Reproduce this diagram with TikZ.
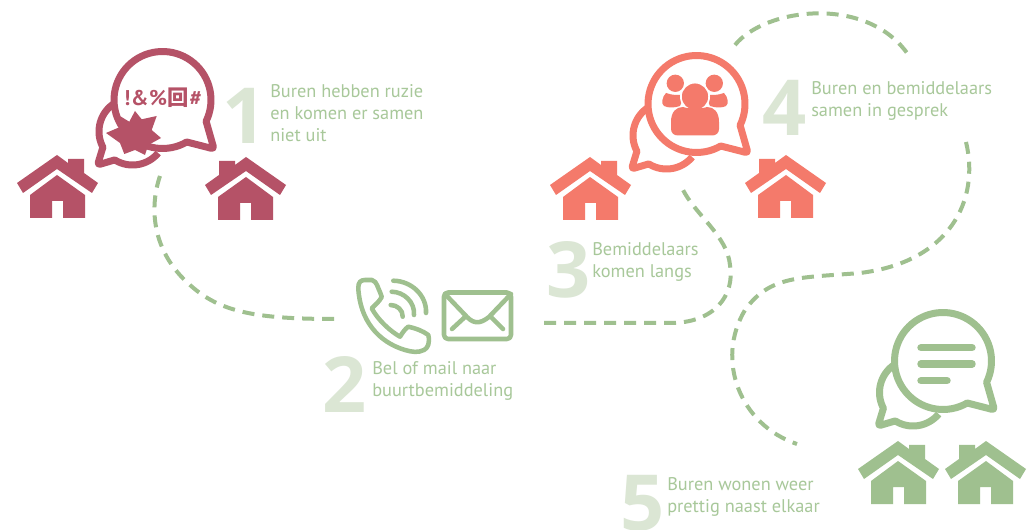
\documentclass[tikz,border=0pt]{standalone}
\usepackage{fontspec}
\setmainfont{PT Sans}
\newfontfamily\cjkf{Noto Sans CJK SC}[FontFace={b}{n}{* Bold}]
\newfontfamily\digitf{Open Sans}[FontFace={b}{n}{* Bold}]
\definecolor{maroon}{HTML}{B55267}
\definecolor{coral}{HTML}{F47A6B}
\definecolor{leaf}{HTML}{9FC08F}
\definecolor{lbl}{HTML}{A8C89A}
\definecolor{digit}{HTML}{DBE6D4}
\tikzset{
  trail/.style={draw=leaf,line width=3pt,dash pattern=on 9pt off 6pt},
  label/.style={anchor=north west,inner sep=0pt,align=left,text=lbl,font=\fontsize{13.75}{16.6}\selectfont},
  bignum/.style={anchor=base west,inner sep=0pt,text=digit,font=\fontsize{58}{58}\digitf\bfseries},
  icon/.style={draw=leaf,line width=3.4pt,line cap=round,line join=round},
  bub/.style={line width=5.25pt,line join=round},
}
\newcommand{\housepic}[4]{%
  \begin{scope}[shift={(#1,#2)},xscale=#3]
    \fill[#4] (-40,28) -- (0,0) -- (11,8) -- (11,4) -- (27,4) -- (27,18) -- (41,28) -- (35,38) -- (0,14) -- (-34,38) -- cycle;
    \fill[#4] (0,20) -- (28,40) -- (28,63) -- (6,63) -- (6,46) -- (-5,46) -- (-5,63) -- (-27,63) -- (-27,40) -- cycle;
  \end{scope}}
\newcommand{\bubblepic}[3]{%
  \begin{scope}[shift={(#1,#2)}]
    \draw[bub,draw=#3] plot[domain=240:152,samples=30] ({-30+33.5*cos(\x)},{31.5+33.5*sin(\x)}) [rounded corners=2.2pt] -- (-65,65) [sharp corners] -- plot[domain=122:40,samples=30] ({-30+33.5*cos(\x)},{31.5+33.5*sin(\x)});
    \draw[bub,draw=#3,fill=white] plot[domain=60:386,samples=70] ({48.5*cos(\x)},{48.5*sin(\x)}) [rounded corners=2.2pt] -- (51.5,49) [sharp corners] -- cycle;
  \end{scope}}
\begin{document}
\begin{tikzpicture}[x=0.75pt,y=-0.75pt]
\useasboundingbox (0,0) rectangle (1031,530);
\clip (0,0) rectangle (1031,530);
\fill[white] (0,0) rectangle (1031,530);

% cropped title
\node[anchor=base,inner sep=0pt,text=black!85,font=\fontsize{21}{21}\selectfont] (titleA) at (292,-5) {g};
\node[anchor=base,inner sep=0pt,text=black!85,font=\fontsize{21}{21}\selectfont] (titleB) at (466,-5) {g};

% trail coordinates
\coordinate (t1a) at (160,176);
\coordinate (t1b) at (336,319);
\coordinate (t2a) at (544,323);
\coordinate (t2b) at (682,188);
\coordinate (t3a) at (735,45);
\coordinate (t3b) at (907,53);
\coordinate (t4a) at (966,142);
\coordinate (t4b) at (797,444);

\draw[trail] (t1a) .. controls (150,205) and (150,250) .. (190,285) .. controls (220,312) and (255,319) .. (t1b);
\draw[trail] (t2a) -- (670,323) .. controls (715,323) and (735,295) .. (730,265) .. controls (727,235) and (695,215) .. (t2b);
\draw[trail] (t3a) .. controls (765,8) and (865,-5) .. (t3b);
\draw[trail] (t4a) .. controls (980,200) and (950,262) .. (860,273) .. controls (800,278) and (770,275) .. (745,310) .. controls (715,360) and (740,425) .. (t4b);

% group 1
\housepic{57}{155}{1}{maroon}
\housepic{246}{157}{-1}{maroon}
\bubblepic{162.5}{100}{maroon}
\fill[maroon] (135,111) -- (141.7,119.3) -- (156.7,116) -- (151.7,130) -- (161,138) -- (148.3,145) -- (145,155) -- (135,150) -- (124.3,154) -- (120,143) -- (106,133) -- (120,127) -- (121,116.7) -- (129.3,121.7) -- cycle;
\node[inner sep=0pt,text=maroon,font=\fontsize{16}{16}\selectfont\bfseries] (curse) at (163,98) {!\kern0.5pt\&\kern0.5pt\%\kern0.5pt{\cjkf 回}\kern0.5pt\#};
\node[bignum] (n1) at (222,144) {1};
\node[label] (l1) at (270,84) {Buren hebben ruzie\\en komen er samen\\niet uit};

% group 2
\draw[icon] (358.3,288.3) .. controls (358,282) and (361,280) .. (365,280) -- (372,280) .. controls (375,281) and (376,283) .. (377,285) .. controls (379,290) and (381,294) .. (381.7,297) .. controls (379,302) and (375,305) .. (371.7,308.3) .. controls (378,320) and (390,331) .. (400,336.7) .. controls (403,332) and (405,329) .. (408.3,326.7) .. controls (415,328) and (423,331) .. (428.3,335) .. controls (430,343) and (428,348) .. (424,350) .. controls (418,353) and (412,352) .. (405,350) .. controls (378,342) and (360,320) .. (358.3,288.3) -- cycle;
\draw[icon] (393.3,280.7) .. controls (412,281) and (427,296) .. (426,313);
\draw[icon] (391.7,291.7) .. controls (404,292) and (415,302) .. (414,315);
\draw[icon] (390.7,305) .. controls (397,305) and (403,310) .. (402.7,316.7);
\draw[icon,rounded corners=3pt] (444,292.5) rectangle (511,339);
\draw[icon] (445,294) -- (467,317) .. controls (474,324) and (480,324) .. (489,317) -- (511,294);
\draw[icon] (452,329) -- (465,317);
\draw[icon] (503,329) -- (491,317);
\node[bignum] (n2) at (322,413) {2};
\node[label] (l2) at (372,361) {Bel of mail naar\\buurtbemiddeling};

% group 3 and 4
\housepic{590}{157}{1}{coral}
\housepic{786}{155}{-1}{coral}
\bubblepic{696.5}{104}{coral}
\fill[coral] (675.3,83.3) circle[radius=6.5pt];
\fill[coral] (714.3,83.3) circle[radius=6.5pt];
\fill[coral] (666,93) .. controls (662,97) and (661,104) .. (664,106) .. controls (668,108) and (674,108) .. (680,106) -- (685,94) .. controls (678,96) and (672,95) .. (666,93) -- cycle;
\fill[coral] (724,93) .. controls (728,97) and (729,104) .. (726,106) .. controls (722,108) and (716,108) .. (710,106) -- (705,94) .. controls (712,96) and (718,95) .. (724,93) -- cycle;
\filldraw[fill=coral,draw=white,line width=1.3pt] (695,96.7) circle[radius=10.6pt];
\fill[coral] (671,122) .. controls (671,112) and (676,107) .. (683,107) .. controls (688,109) and (702,109) .. (707,107) .. controls (714,107) and (719,112) .. (719,122) -- (719,129) .. controls (719,133) and (716,135.5) .. (712,135.5) -- (678,135.5) .. controls (674,135.5) and (671,133) .. (671,129) -- cycle;
\node[bignum] (n3) at (546,298) {3};
\node[label] (l3) at (592,242) {Bemiddelaars\\komen langs};
\node[bignum] (n4) at (762,136) {4};
\node[label] (l4) at (811,81) {Buren en bemiddelaars\\samen in gesprek};

% group 5
\housepic{898}{441}{1}{leaf}
\housepic{986}{441}{-1}{leaf}
\bubblepic{943}{361}{leaf}
\draw[leaf,line width=5.6pt,line cap=round] (921,347.7) -- (972,347.7);
\draw[leaf,line width=5.6pt,line cap=round] (921,364) -- (972,364);
\draw[leaf,line width=5.6pt,line cap=round] (921,380.7) -- (947,380.7);
\node[bignum] (n5) at (620,530) {5};
\node[label] (l5) at (667,477) {Buren wonen weer\\prettig naast elkaar};
\end{tikzpicture}
\end{document}
